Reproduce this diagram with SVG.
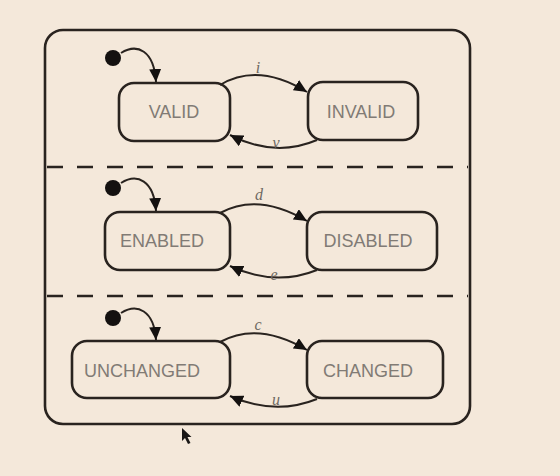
<svg xmlns="http://www.w3.org/2000/svg" width="560" height="476" viewBox="0 0 560 476">
<style>
.bg{fill:#f4e8da}
.outer{fill:#f4e8da;stroke:#29231f;stroke-width:2.6}
.div{stroke:#29231f;stroke-width:2.6;stroke-dasharray:16 14}
.state{fill:#f4e8da;stroke:#29231f;stroke-width:2.6}
.name{font-family:"Liberation Sans",Arial,sans-serif;font-size:18px;fill:#817b75;text-anchor:middle}
.lbl{font-family:"Liberation Serif","Times New Roman",serif;font-style:italic;font-size:16px;fill:#6e6862;text-anchor:middle}
.tr{fill:none;stroke:#29231f;stroke-width:2}
.init{fill:#141110}
</style>
<defs>
<marker id="ah" markerUnits="userSpaceOnUse" markerWidth="14" markerHeight="12" refX="13" refY="6" orient="auto">
<path d="M0,0 L13,6 L0,12 Z" fill="#141110"/>
</marker>
</defs>
<rect class="bg" x="0" y="0" width="560" height="476"/>
<g id="container">
<rect class="outer" x="45" y="30" width="425" height="394" rx="18"/>
<line class="div" x1="47" y1="167" x2="468" y2="167"/>
<line class="div" x1="47" y1="296" x2="468" y2="296"/>
</g>
<g id="init-valid"><circle class="init" cx="113" cy="58" r="8"/></g>
<g id="init-enabled"><circle class="init" cx="113" cy="188" r="8"/></g>
<g id="init-unchanged"><circle class="init" cx="113" cy="318" r="8"/></g>
<g id="valid"><rect class="state" x="119" y="83" width="111" height="58" rx="15"/><text class="name" x="174" y="118">VALID</text></g>
<g id="invalid"><rect class="state" x="308" y="82" width="110" height="58" rx="15"/><text class="name" x="361" y="118">INVALID</text></g>
<g id="enabled"><rect class="state" x="105" y="212" width="125" height="58" rx="15"/><text class="name" x="162" y="247">ENABLED</text></g>
<g id="disabled"><rect class="state" x="307" y="212" width="130" height="58" rx="15"/><text class="name" x="368" y="247">DISABLED</text></g>
<g id="unchanged"><rect class="state" x="72" y="341" width="158" height="57" rx="15"/><text class="name" x="142" y="377">UNCHANGED</text></g>
<g id="changed"><rect class="state" x="307" y="341" width="136" height="57" rx="15"/><text class="name" x="368" y="377">CHANGED</text></g>
<g id="connectors">
<path class="tr" marker-end="url(#ah)" d="M121 53 C137 43 154 50 156 82"/>
<path class="tr" marker-end="url(#ah)" d="M121 183 C137 173 154 180 156 211"/>
<path class="tr" marker-end="url(#ah)" d="M121 313 C137 303 154 310 156 340"/>
<path class="tr" marker-end="url(#ah)" d="M220 85 Q258 62 307 92"/>
<path class="tr" marker-end="url(#ah)" d="M317 140 Q275 158 230 135"/>
<path class="tr" marker-end="url(#ah)" d="M220 213 Q258 192 307 221"/>
<path class="tr" marker-end="url(#ah)" d="M317 270 Q275 287 230 266"/>
<path class="tr" marker-end="url(#ah)" d="M220 342 Q258 321 307 350"/>
<path class="tr" marker-end="url(#ah)" d="M317 399 Q275 416 230 396"/>
<text class="lbl" x="258" y="73">i</text>
<text class="lbl" x="276" y="148">v</text>
<text class="lbl" x="259" y="200">d</text>
<text class="lbl" x="274" y="280">e</text>
<text class="lbl" x="258" y="330">c</text>
<text class="lbl" x="276" y="405">u</text>
</g>
<path d="M182 428 L182 441 L185 438 L188 444 L190.5 443 L187.5 437 L191.5 437 Z" fill="#1a1716"/>
</svg>
